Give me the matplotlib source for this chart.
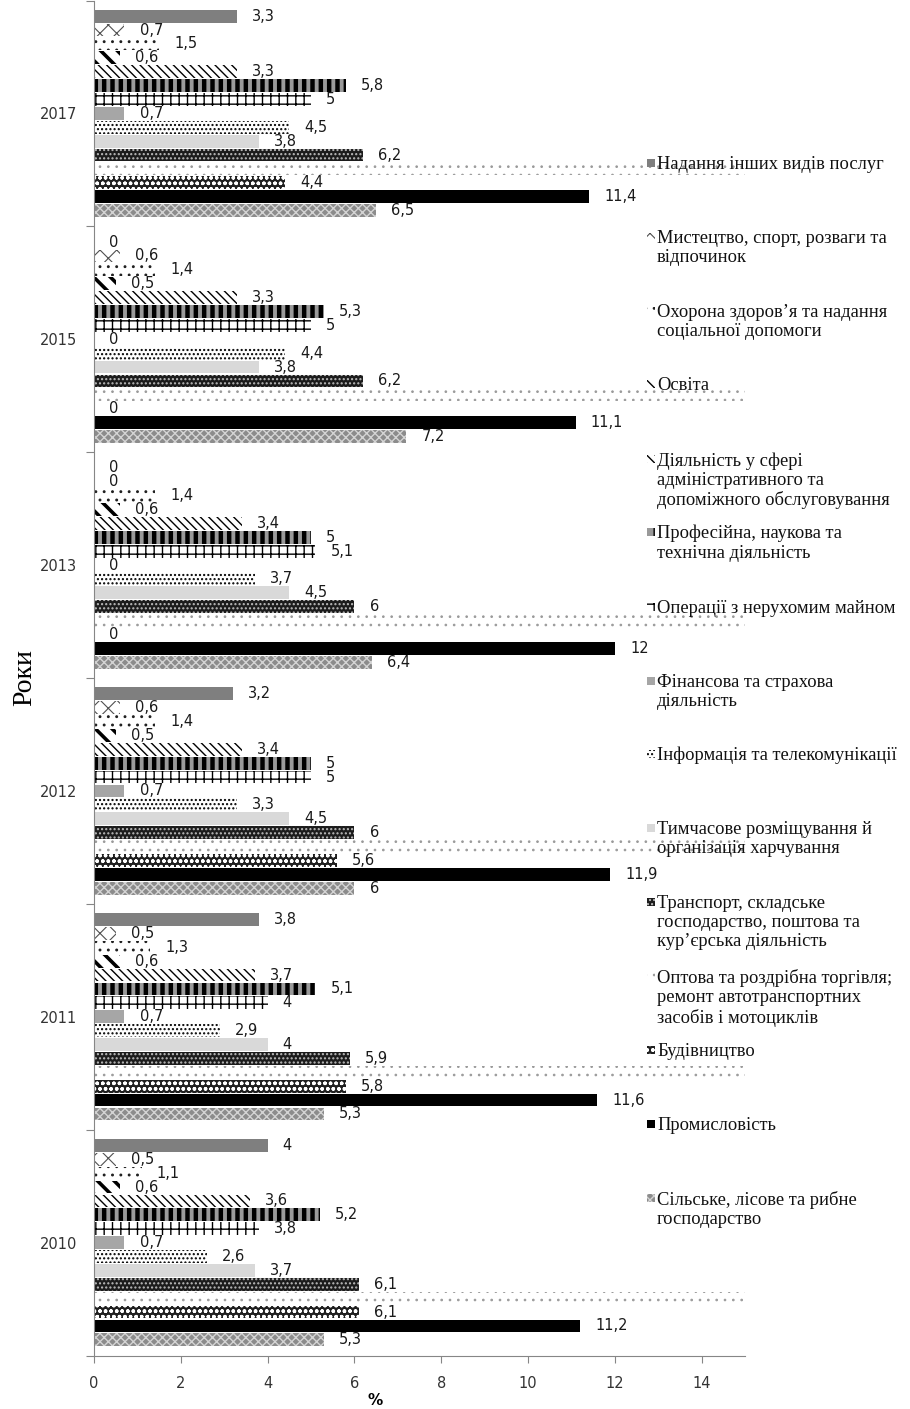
import matplotlib
matplotlib.use("Agg")
import matplotlib.pyplot as plt
from matplotlib.patches import Rectangle

# Years (bottom to top) and branches (top to bottom inside each year group)
years = ["2010", "2011", "2012", "2013", "2015", "2017"]

categories = [
    "Надання інших видів послуг",
    "Мистецтво, спорт, розваги та\nвідпочинок",
    "Охорона здоров’я та надання\nсоціальної допомоги",
    "Освіта",
    "Діяльність у сфері\nадміністративного та\nдопоміжного обслуговування",
    "Професійна, наукова та\nтехнічна діяльність",
    "Операції з нерухомим майном",
    "Фінансова та страхова\nдіяльність",
    "Інформація та телекомунікації",
    "Тимчасове розміщування й\nорганізація харчування",
    "Транспорт, складське\nгосподарство, поштова та\nкур’єрська діяльність",
    "Оптова та роздрібна торгівля;\nремонт автотранспортних\nзасобів і мотоциклів",
    "Будівництво",
    "Промисловість",
    "Сільське, лісове та рибне\nгосподарство",
]

# Shares, %, in the order of `years`
other_services = [4, 3.8, 3.2, 0, 0, 3.3]
arts_sport = [0.5, 0.5, 0.6, 0, 0.6, 0.7]
health = [1.1, 1.3, 1.4, 1.4, 1.4, 1.5]
education = [0.6, 0.6, 0.5, 0.6, 0.5, 0.6]
administrative = [3.6, 3.7, 3.4, 3.4, 3.3, 3.3]
professional = [5.2, 5.1, 5, 5, 5.3, 5.8]
real_estate = [3.8, 4, 5, 5.1, 5, 5]
finance = [0.7, 0.7, 0.7, 0, 0, 0.7]
information = [2.6, 2.9, 3.3, 3.7, 4.4, 4.5]
accommodation = [3.7, 4, 4.5, 4.5, 3.8, 3.8]
transport = [6.1, 5.9, 6, 6, 6.2, 6.2]
trade = [22.1, 21.7, 22.4, 23.0, 22.6, 22.9]
construction = [6.1, 5.8, 5.6, 0, 0, 4.4]
industry = [11.2, 11.6, 11.9, 12, 11.1, 11.4]
agriculture = [5.3, 5.3, 6, 6.4, 7.2, 6.5]

series = [other_services, arts_sport, health, education, administrative,
          professional, real_estate, finance, information, accommodation,
          transport, trade, construction, industry, agriculture]

# Fill styles: (face colour, hatch, hatch colour, hatch line width)
styles = [
    ("#7f7f7f", None, "#7f7f7f", 1.0),
    ("white", "xx", "#505050", 0.8),
    ("white", "..", "#202020", 0.9),
    ("white", "\\\\", "black", 2.6),
    ("white", "\\\\\\\\", "black", 1.0),
    ("#9a9a9a", "||", "black", 3.2),
    ("white", "++", "black", 1.0),
    ("#a6a6a6", None, "#a6a6a6", 1.0),
    ("white", "....", "black", 1.0),
    ("#d9d9d9", None, "#d9d9d9", 1.0),
    ("#1c1c1c", "....", "#bdbdbd", 1.0),
    ("white", "..", "#9a9a9a", 0.7),
    ("#202020", "ooo", "white", 1.0),
    ("black", None, "black", 1.0),
    ("#8c8c8c", "xxxx", "#d4d4d4", 1.0),
]

W, H = 910, 1409
fig = plt.figure(figsize=(W / 100, H / 100), dpi=100)
ax = fig.add_axes([94 / W, 53.5 / H, (745 - 94) / W, 1355 / H])

XMAX = 15
slot = 0.0615
for k, (vals, (fc, hatch, hc, hlw)) in enumerate(zip(series, styles)):
    ys = [g + (7 - k) * slot for g in range(len(years))]
    with plt.rc_context({"hatch.linewidth": hlw}):
        ax.barh(ys, vals, height=slot * 0.92, color=fc, edgecolor=hc,
                hatch=hatch, linewidth=0)
    for y, v in zip(ys, vals):
        if v <= XMAX:
            ax.text(v + 0.35, y, f"{v:g}".replace(".", ","), ha="left",
                    va="center", fontsize=10.5, family="DejaVu Sans",
                    color="#1a1a1a")

ax.set_xlim(0, XMAX)
ax.set_ylim(-0.5, len(years) - 0.5)
ax.set_xticks(range(0, 15, 2))
ax.tick_params(axis="x", labelsize=10.5, length=5, color="#868686",
               labelcolor="#333333", pad=10)
ax.set_yticks([g - 0.5 for g in range(len(years) + 1)])
ax.set_yticklabels([])
ax.set_yticks(range(len(years)), minor=True)
ax.set_yticklabels(years, minor=True)
ax.tick_params(axis="y", which="major", length=6, color="#868686")
ax.tick_params(axis="y", which="minor", length=0, labelsize=10.5,
               labelcolor="#333333", pad=12)
for s in ("top", "right"):
    ax.spines[s].set_visible(False)
for s in ("left", "bottom"):
    ax.spines[s].set_color("#868686")

ax.set_xlabel("%", fontsize=11, fontweight="bold", family="DejaVu Sans")
ax.xaxis.set_label_coords((375 - 94) / (745 - 94), -0.028)
ax.set_ylabel("Роки", fontsize=20, family="Liberation Serif")
ax.yaxis.set_label_coords(-0.0865, 0.5)

# Legend drawn entry by entry down the right side
entry_y = [163, 237, 311, 384, 459, 532, 607, 681, 754, 828, 902, 976,
           1050, 1124, 1198]
for label, (fc, hatch, hc, hlw), yc in zip(categories, styles, entry_y):
    with plt.rc_context({"hatch.linewidth": min(hlw, 1.0)}):
        fig.add_artist(Rectangle((647 / W, 1 - (yc + 4) / H), 8 / W, 8 / H,
                                 transform=fig.transFigure, facecolor=fc,
                                 edgecolor=hc, hatch=hatch, linewidth=0))
    fig.text(657 / W, 1 - (yc - 7) / H, label, ha="left", va="top",
             fontsize=13.3, family="Liberation Serif", color="#111111",
             linespacing=1.17)

fig.savefig("out.png", dpi=100)
